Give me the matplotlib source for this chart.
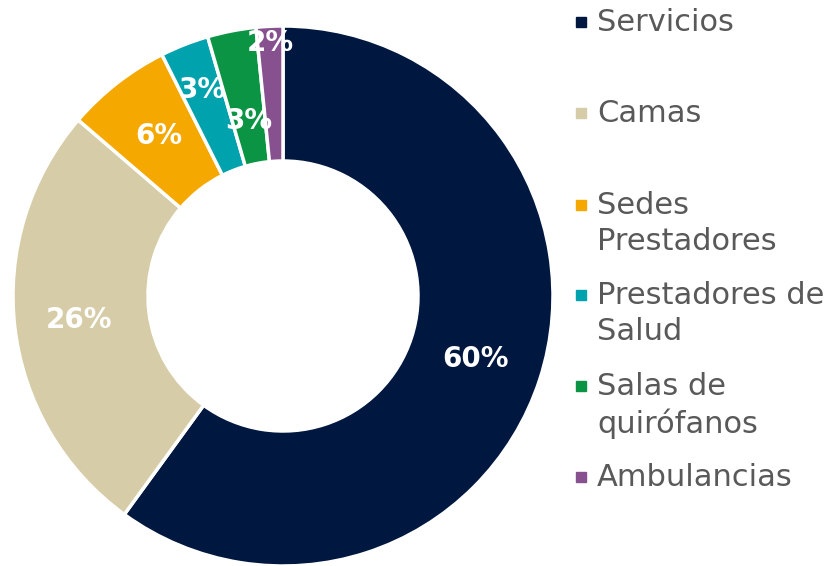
import matplotlib
matplotlib.use("Agg")
import matplotlib.pyplot as plt
import numpy as np

categories = ["Servicios", "Camas", "Sedes\nPrestadores", "Prestadores de\nSalud", "Salas de\nquirófanos", "Ambulancias"]
values = [60.0, 26.3, 6.3, 2.9, 2.9, 1.6]
colors = ["#00173F", "#D6CCA7", "#F5A800", "#00A3AD", "#0B9444", "#87508F"]
label_radius = [0.75, 0.76, 0.75, 0.82, 0.66, 0.94]

plt.rcParams['font.family'] = ['DejaVu Sans']

fig = plt.figure(figsize=(8.35, 5.66), dpi=100)
ax = fig.add_axes([13/835, 0, 540/835, 540/566])
wedges, texts, autotexts = ax.pie(
    values, colors=colors, startangle=90, counterclock=False,
    autopct='%.0f%%', pctdistance=0.75,
    wedgeprops=dict(width=0.5, edgecolor='white', linewidth=2.5),
    textprops=dict(color='white', fontsize=20, fontweight='bold'))
for w, t, r in zip(wedges, autotexts, label_radius):
    ang = np.deg2rad((w.theta1 + w.theta2) / 2)
    t.set_position((r * np.cos(ang), r * np.sin(ang)))
ax.set_xlim(-1, 1)
ax.set_ylim(-1, 1)
ax.set_aspect('equal')
ax.axis('off')

# legend (manual)
legend_y = [22, 113, 205, 295, 386, 477]  # pixel top-line centres
for cat, col, y in zip(categories, colors, legend_y):
    fy = 1 - y / 566
    fig.patches.append(plt.Rectangle((576/835, fy - 5/566), 10/835, 10/566,
                                     transform=fig.transFigure, color=col, figure=fig))
    fig.text(597/835, fy + 14/566, cat, fontsize=22, color='#595959', va='top', ha='left',
             linespacing=1.3)

fig.savefig("out.png", dpi=100)
